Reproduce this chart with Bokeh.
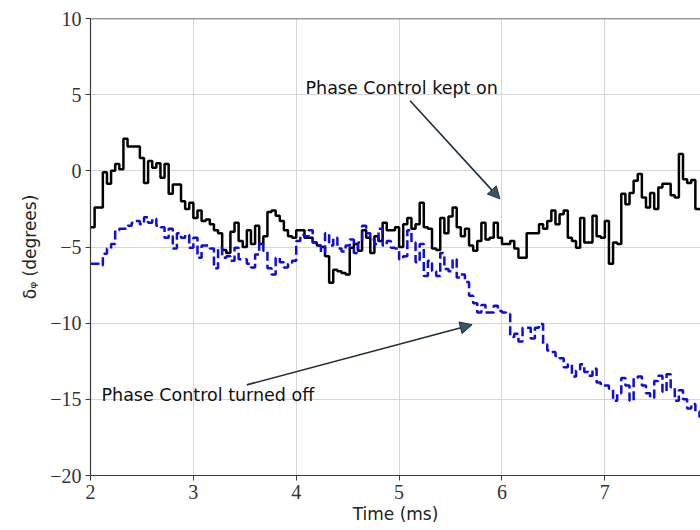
import numpy as np
from bokeh.plotting import figure
from bokeh.models import Range1d, Span, Label, Arrow, NormalHead, FixedTicker, ColumnDataSource
from bokeh.embed import file_html
from bokeh.resources import INLINE

# ---------------- data ----------------
t_start = 2.0
t_step = 0.04

phase_on = [
    -3.7, -2.4, -2.4, -0.1, -0.85, 0.0, 0.45, 0.1, 2.1, 1.6,
    1.6, 1.6, 0.85, -0.8, 0.65, 0.2, 0.5, -0.45, 0.45, -1.5,
    -0.9, -0.9, -2.0, -2.5, -2.1, -3.1, -2.6, -3.3, -3.2, -3.5,
    -3.9, -4.1, -5.2, -5.4, -4.0, -3.4, -4.6, -5.0, -3.9, -4.8,
    -3.6, -4.8, -4.3, -2.7, -2.6, -2.95, -3.3, -3.9, -4.3, -4.4,
    -3.9, -3.9, -4.4, -4.4, -4.7, -4.9, -5.0, -5.6, -7.35, -6.5,
    -6.6, -6.7, -6.8, -5.05, -4.8, -5.25, -3.9, -4.4, -5.4, -4.3,
    -4.6, -3.4, -3.9, -3.9, -3.7, -5.0, -3.5, -3.1, -3.8, -3.5,
    -2.1, -3.7, -3.8, -5.1, -5.2, -3.1, -4.1, -3.0, -2.4, -3.7,
    -4.3, -3.8, -4.9, -5.25, -4.6, -3.4, -4.5, -4.4, -3.4, -4.4,
    -4.8, -4.8, -4.6, -5.1, -5.7, -5.7, -4.1, -4.1, -4.1, -3.5,
    -3.8, -3.3, -2.6, -3.5, -2.85, -2.6, -4.4, -4.6, -5.05, -3.1,
    -4.7, -4.7, -2.95, -4.3, -4.4, -3.3, -6.1, -4.7, -4.8, -1.5,
    -2.2, -1.45, -0.65, -0.2, -1.75, -2.4, -1.45, -2.5, -1.1, -0.85,
    -0.85, -1.6, -1.75, 1.1, -0.55, -0.8, -0.6, -2.5, -2.6,
]

phase_off = [
    -6.1, -6.1, -6.2, -5.45, -5.1, -4.8, -3.9, -3.8, -3.8, -3.6,
    -3.4, -3.3, -3.5, -3.05, -3.4, -3.15, -3.6, -3.7, -4.4, -3.8,
    -5.1, -4.1, -4.4, -4.2, -5.05, -4.4, -5.7, -4.9, -4.9, -5.1,
    -6.4, -5.05, -5.7, -5.6, -5.9, -5.05, -5.8, -5.8, -6.1, -6.35,
    -5.5, -4.7, -5.25, -6.4, -6.8, -5.7, -6.0, -6.35, -6.1, -5.9,
    -4.6, -4.2, -4.3, -3.9, -4.7, -4.9, -5.4, -4.1, -4.9, -4.4,
    -5.1, -5.3, -4.9, -4.5, -5.4, -4.7, -3.6, -4.1, -4.5, -4.8,
    -3.8, -4.9, -4.6, -5.05, -5.1, -5.8, -5.6, -3.9, -4.7, -6.0,
    -4.8, -6.9, -5.9, -6.6, -6.9, -5.4, -6.45, -6.6, -5.8, -7.0,
    -6.8, -7.3, -8.2, -8.7, -9.3, -8.8, -9.3, -9.3, -8.85, -9.2,
    -9.3, -9.4, -10.9, -10.7, -11.2, -10.3, -10.3, -11.0, -10.3, -10.05,
    -11.4, -11.8, -11.9, -12.15, -12.3, -12.9, -12.7, -13.5, -13.1, -12.7,
    -13.2, -13.45, -13.0, -13.9, -14.1, -14.1, -14.3, -15.1, -14.6, -13.6,
    -14.1, -15.1, -13.6, -13.5, -14.1, -14.6, -14.9, -13.8, -13.45, -14.5,
    -13.35, -14.2, -15.1, -14.4, -15.0, -15.6, -15.3, -15.8, -16.2,
]

x_ticks = [2, 3, 4, 5, 6, 7]
y_ticks = [-20, -15, -10, -5, 0, 5, 10]
y_tick_labels = ["\u221220", "\u221215", "\u221210", "\u22125", "0", "5", "10"]

note_on = "Phase Control kept on"
note_off = "Phase Control turned off"

time = t_start + t_step * np.arange(len(phase_on))
src = ColumnDataSource(dict(t=time, on=phase_on, off=phase_off))

# ---------------- figure ----------------
p = figure(width=700, height=530, output_backend="svg", toolbar_location=None,
           x_range=Range1d(2, 7.93), y_range=Range1d(-20, 10),
           min_border_left=90, min_border_top=18, min_border_bottom=55,
           min_border_right=0)
p.background_fill_color = "white"
p.border_fill_color = "white"
p.outline_line_color = None

spine = "#3a3a3a"
tick_font = "Liberation Serif"
text_font = "DejaVu Sans"

for ax in (p.xaxis[0], p.yaxis[0]):
    ax.axis_line_color = spine
    ax.axis_line_width = 1.2
    ax.major_tick_line_color = spine
    ax.major_tick_out = 5
    ax.major_tick_in = 0
    ax.minor_tick_line_color = None
    ax.major_label_text_font = tick_font
    ax.major_label_text_font_size = "20px"
    ax.major_label_text_color = "#333333"
    ax.axis_label_text_font = text_font
    ax.axis_label_text_font_size = "17px"
    ax.axis_label_text_font_style = "normal"
    ax.axis_label_text_color = "#222222"

p.xaxis.ticker = FixedTicker(ticks=x_ticks)
p.yaxis.ticker = FixedTicker(ticks=y_ticks)
p.yaxis.major_label_overrides = {v: s for v, s in zip(y_ticks, y_tick_labels)}
p.xaxis.axis_label = "Time (ms)"
p.yaxis.axis_label = "\u03b4\u1d69 (degrees)"
p.xaxis.major_label_standoff = 4
p.xaxis.axis_label_standoff = 2
p.yaxis.major_label_standoff = 4
p.yaxis.axis_label_standoff = 7

p.xgrid.grid_line_color = "#d6d6d6"
p.ygrid.grid_line_color = "#d6d6d6"
p.xgrid.grid_line_width = 1
p.ygrid.grid_line_width = 1

# top spine
p.add_layout(Span(location=10, dimension="width", line_color=spine, line_width=1.5))

p.step("t", "on", source=src, mode="after", line_color="black", line_width=2.5)
p.step("t", "off", source=src, mode="after", line_color="#0d0de0", line_width=2.5,
       line_dash="9 4")

arrow_col = "#1f2d38"
p.add_layout(Arrow(end=NormalHead(size=12, fill_color="#3b5568", line_color=arrow_col, line_width=1),
                   x_start=5.107, y_start=4.6, x_end=5.98, y_end=-1.84,
                   line_color=arrow_col, line_width=1.6))
p.add_layout(Arrow(end=NormalHead(size=12, fill_color="#3b5568", line_color=arrow_col, line_width=1),
                   x_start=3.52, y_start=-14.05, x_end=5.71, y_end=-10.1,
                   line_color=arrow_col, line_width=1.6))

p.add_layout(Label(x=4.09, y=5.45, text=note_on, text_font=text_font,
                   text_font_size="17.5px", text_color="#111111", text_baseline="alphabetic"))
p.add_layout(Label(x=2.107, y=-14.7, text=note_off, text_font=text_font,
                   text_font_size="17.5px", text_color="#111111", text_baseline="alphabetic"))

open("out.html", "w").write(file_html(p, INLINE))
